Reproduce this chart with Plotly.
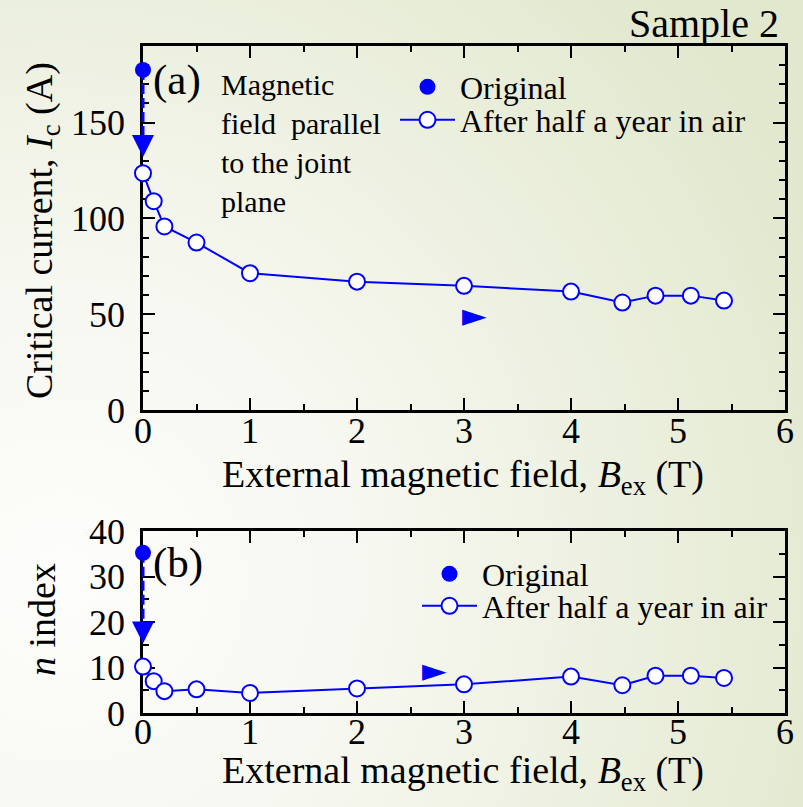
import base64
import plotly.graph_objects as go

# ---------------- data ----------------
B_field = [0, 0.1, 0.2, 0.5, 1, 2, 3, 4, 4.48, 4.79, 5.12, 5.43]
Ic_after = [123.6, 109.0, 95.8, 87.4, 71.4, 67.0, 64.8, 61.8, 56.1, 59.7, 59.7, 57.1]
n_after = [10.2, 7.0, 4.8, 5.2, 4.4, 5.4, 6.3, 8.0, 6.1, 8.2, 8.2, 7.7]
B_orig = [0]
Ic_orig = [177.5]
n_orig = [35.2]
Ic_arrow_tip = [132.0]   # tip of the downward arrow (A)
n_arrow_tip = [15.3]     # tip of the downward arrow (n)
Ic_dir_mark = (3.1, 49.6)  # right-pointing marker in (a)
n_dir_mark = (2.72, 9.4)   # right-pointing marker in (b)
x_range = [0, 6]
Ic_range = [0, 190]
n_range = [0, 40]

FONT = "Liberation Serif, Times New Roman, serif"
BLUE = "#0000ff"
W, H = 803, 807

# ---------------- background gradient ----------------
svg = """<svg xmlns='http://www.w3.org/2000/svg' width='803' height='807' viewBox='0 0 803 807' preserveAspectRatio='none'>
<defs><radialGradient id='g' cx='0.08' cy='0.72' r='1.05' gradientUnits='objectBoundingBox'>
<stop offset='0' stop-color='#fdfdfb'/>
<stop offset='0.35' stop-color='#f7f8f1'/>
<stop offset='0.7' stop-color='#ebefdd'/>
<stop offset='1' stop-color='#e1e8cd'/>
</radialGradient></defs>
<rect width='803' height='807' fill='url(#g)'/></svg>"""
bg_src = "data:image/svg+xml;base64," + base64.b64encode(svg.encode()).decode()

fig = go.Figure()

open_marker = dict(symbol="circle", size=16, color="white", line=dict(color=BLUE, width=2))
filled_marker = dict(symbol="circle", size=16, color=BLUE, line=dict(width=0))

# ---- panel (a) ----
fig.add_trace(go.Scatter(x=B_orig, y=Ic_orig, mode="markers", name="Original",
                         marker=filled_marker, xaxis="x", yaxis="y", legend="legend", cliponaxis=False))
fig.add_trace(go.Scatter(x=B_field, y=Ic_after, mode="lines+markers", name="After half a year in air",
                         line=dict(color=BLUE, width=2), marker=open_marker,
                         xaxis="x", yaxis="y", legend="legend2", cliponaxis=False))
fig.add_trace(go.Scatter(x=B_orig, y=Ic_arrow_tip, mode="markers",
                         marker=dict(symbol="arrow-down", size=22, color=BLUE, line=dict(width=0)),
                         showlegend=False, xaxis="x", yaxis="y", cliponaxis=False))

# ---- panel (b) ----
fig.add_trace(go.Scatter(x=B_orig, y=n_orig, mode="markers", name="Original",
                         marker=filled_marker, xaxis="x2", yaxis="y2", legend="legend3", cliponaxis=False))
fig.add_trace(go.Scatter(x=B_field, y=n_after, mode="lines+markers", name="After half a year in air",
                         line=dict(color=BLUE, width=2), marker=open_marker,
                         xaxis="x2", yaxis="y2", legend="legend4", cliponaxis=False))
fig.add_trace(go.Scatter(x=B_orig, y=n_arrow_tip, mode="markers",
                         marker=dict(symbol="arrow-down", size=22, color=BLUE, line=dict(width=0)),
                         showlegend=False, xaxis="x2", yaxis="y2", cliponaxis=False))

# dashed connectors (drawn as unclipped shapes in axis-domain coordinates)
def frac(v, rng):
    return (v - rng[0]) / (rng[1] - rng[0])

shapes = [
    dict(type="line", xref="x domain", yref="y domain", layer="above",
         x0=frac(B_orig[0], x_range), x1=frac(B_orig[0], x_range),
         y0=frac(Ic_orig[0], Ic_range), y1=frac(Ic_arrow_tip[0] + 8, Ic_range),
         line=dict(color=BLUE, width=3, dash="10px,4px")),
    dict(type="line", xref="x2 domain", yref="y2 domain", layer="above",
         x0=frac(B_orig[0], x_range), x1=frac(B_orig[0], x_range),
         y0=frac(n_orig[0], n_range), y1=frac(n_arrow_tip[0] + 3, n_range),
         line=dict(color=BLUE, width=3, dash="10px,4px")),
]

axis_common = dict(showline=True, linecolor="black", linewidth=2.5, mirror="allticks",
                   ticks="inside", ticklen=12, tickwidth=2, tickcolor="black",
                   showgrid=False, zeroline=False, layer="below traces", automargin=False,
                   tickfont=dict(family=FONT, size=36, color="black"))

def minor(d):
    return dict(ticks="inside", dtick=d, ticklen=6, tickwidth=2, tickcolor="black", showgrid=False)

xdom = [143 / W, 785 / W]

def leg(xpx, ypx):
    return dict(x=xpx / W, y=1 - ypx / H, xanchor="left", yanchor="middle",
                bgcolor="rgba(0,0,0,0)", borderwidth=0, itemwidth=55,
                font=dict(family=FONT, size=32, color="black"))

fig.update_layout(
    width=W, height=H,
    margin=dict(l=0, r=0, t=0, b=0, pad=0, autoexpand=False),
    paper_bgcolor="#f4f6ec", plot_bgcolor="rgba(0,0,0,0)",
    showlegend=True,
    xaxis=dict(domain=xdom, range=x_range, dtick=1, tick0=0, anchor="y", minor=minor(0.5),
               ticklabelstandoff=-13, **axis_common),
    yaxis=dict(domain=[1 - 410 / H, 1 - 46 / H], range=Ic_range, dtick=50, tick0=0, anchor="x",
               minor=minor(10), ticklabelstandoff=8, **axis_common),
    xaxis2=dict(domain=xdom, range=x_range, dtick=1, tick0=0, anchor="y2", minor=minor(0.5),
                ticklabelstandoff=-15, **axis_common),
    yaxis2=dict(domain=[1 - 713 / H, 1 - 531 / H], range=n_range, dtick=10, tick0=0, anchor="x2",
                minor=minor(5), ticklabelstandoff=8, **axis_common),
    legend=leg(395, 87),
    legend2=leg(395, 120),
    legend3=leg(417, 574),
    legend4=leg(417, 606),
    shapes=shapes,
    images=[dict(source=bg_src, xref="paper", yref="paper", x=0, y=1, sizex=1, sizey=1,
                 xanchor="left", yanchor="top", sizing="stretch", layer="below")],
)

ann_font = dict(family=FONT, color="black")
annotations = [
    dict(text="Sample 2", xref="paper", yref="paper", x=781 / W, y=1 - 23 / H,
         xanchor="right", yanchor="middle", showarrow=False, font=dict(size=40, **ann_font)),
    dict(text="(a)", xref="paper", yref="paper", x=151 / W, y=1 - 80 / H,
         xanchor="left", yanchor="middle", showarrow=False, font=dict(size=43, **ann_font)),
    dict(text="(b)", xref="paper", yref="paper", x=151 / W, y=1 - 563 / H,
         xanchor="left", yanchor="middle", showarrow=False, font=dict(size=43, **ann_font)),
    dict(text="Magnetic<br>field  parallel<br>to the joint<br>plane", xref="paper", yref="paper",
         x=219 / W, y=1 - 66 / H, xanchor="left", yanchor="top", align="left",
         showarrow=False, font=dict(size=30, **ann_font)),
    dict(text="Critical current, <i>I</i><sub>c</sub> (A)", xref="paper", yref="paper",
         x=42 / W, y=1 - 231 / H, xanchor="center", yanchor="middle", textangle=-90,
         showarrow=False, font=dict(size=38, **ann_font)),
    dict(text="<i>n</i> index", xref="paper", yref="paper",
         x=42 / W, y=1 - 620 / H, xanchor="center", yanchor="middle", textangle=-90,
         showarrow=False, font=dict(size=38, **ann_font)),
    dict(text="External magnetic field, <i>B</i><sub>ex</sub> (T)", xref="paper", yref="paper",
         x=463 / W, y=1 - 477 / H, xanchor="center", yanchor="middle",
         showarrow=False, font=dict(size=38, **ann_font)),
    dict(text="External magnetic field, <i>B</i><sub>ex</sub> (T)", xref="paper", yref="paper",
         x=463 / W, y=1 - 773 / H, xanchor="center", yanchor="middle",
         showarrow=False, font=dict(size=38, **ann_font)),
    dict(text="\u25ba", xref="x", yref="y", x=Ic_dir_mark[0], y=Ic_dir_mark[1],
         xanchor="center", yanchor="middle", showarrow=False,
         font=dict(family="DejaVu Sans", size=32, color=BLUE)),
    dict(text="\u25ba", xref="x2", yref="y2", x=n_dir_mark[0], y=n_dir_mark[1],
         xanchor="center", yanchor="middle", showarrow=False,
         font=dict(family="DejaVu Sans", size=32, color=BLUE)),
]
fig.update_layout(annotations=annotations)

fig.write_html("out.html")
